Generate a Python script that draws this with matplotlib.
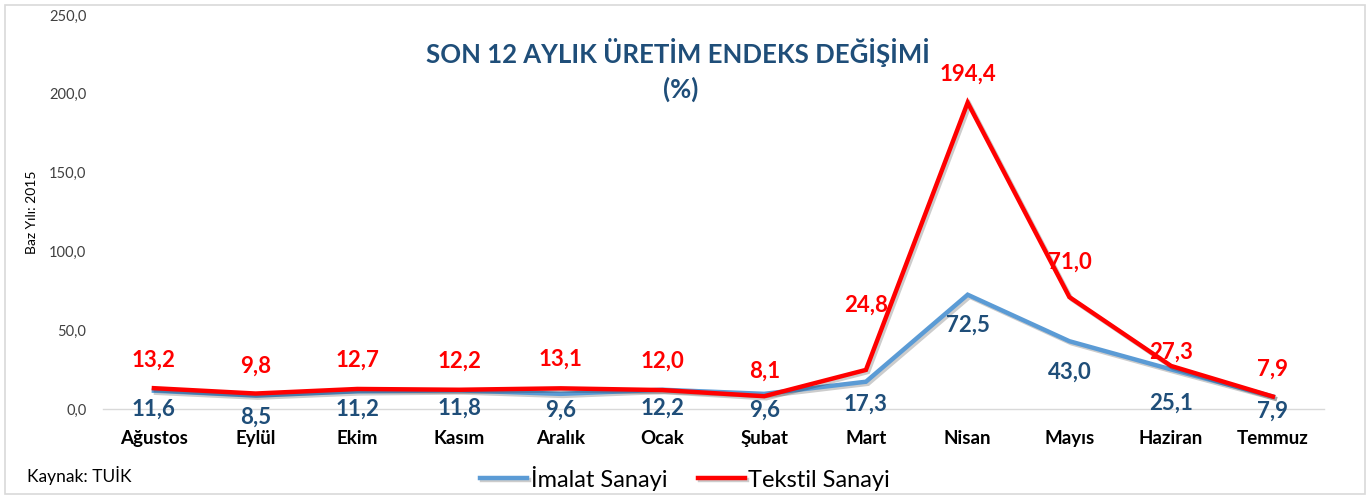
import matplotlib.pyplot as plt
import matplotlib.patheffects as pe
from matplotlib.patches import Rectangle

plt.rcParams['font.family'] = ['Lato', 'DejaVu Sans']

months = ["Ağustos", "Eylül", "Ekim", "Kasım", "Aralık", "Ocak",
          "Şubat", "Mart", "Nisan", "Mayıs", "Haziran", "Temmuz"]
imalat = [11.6, 8.5, 11.2, 11.8, 9.6, 12.2, 9.6, 17.3, 72.5, 43.0, 25.1, 7.9]
tekstil = [13.2, 9.8, 12.7, 12.2, 13.1, 12.0, 8.1, 24.8, 194.4, 71.0, 27.3, 7.9]

# label offsets in pixels (label centre relative to the point)
red_off = [28, 27, 29, 29, 29, 29, 25, 65, 28, 35, 14, 27]
blue_off = [19, 22, 18, 18, 16, 18, 16, 22, 30, 31, 34, 15]

blue = "#5B9BD5"
red = "#FF0000"
dark_blue = "#1F4E79"

def fmt(v):
    return f"{v:.1f}".replace(".", ",")

fig = plt.figure(figsize=(13.7, 4.99), dpi=100)
ax = fig.add_axes([0.0752, 0.1804, 0.891, 0.7896])

x = list(range(len(months)))
shadow = [pe.SimpleLineShadow(offset=(1.5, -1.5), alpha=0.2), pe.Normal()]
ax.plot(x, imalat, color=blue, lw=3.2, label="İmalat Sanayi",
        path_effects=shadow, solid_joinstyle='miter', zorder=3)
ax.plot(x, tekstil, color=red, lw=3.2, label="Tekstil Sanayi",
        path_effects=shadow, solid_joinstyle='miter', zorder=4)

for i in x:
    ax.annotate(fmt(tekstil[i]), (i, tekstil[i]), xytext=(0, red_off[i] * 0.72),
                textcoords='offset points', ha='center', va='center',
                color=red, fontsize=16, fontweight='bold', zorder=5)
    ax.annotate(fmt(imalat[i]), (i, imalat[i]), xytext=(0, -blue_off[i] * 0.72),
                textcoords='offset points', ha='center', va='center',
                color=dark_blue, fontsize=16, fontweight='bold', zorder=5)

ax.set_xlim(-0.5, len(months) - 0.5)
ax.set_ylim(0, 250)
ax.set_yticks(range(0, 251, 50))
ax.set_yticklabels([fmt(v) for v in range(0, 251, 50)], fontsize=10.5, color="#404040")
ax.set_xticks(x)
ax.set_xticklabels(months, fontsize=13.5, fontweight='bold', color="black")
ax.tick_params(axis='both', length=0)
ax.tick_params(axis='x', pad=15)
ax.tick_params(axis='y', pad=12)
for s in ['top', 'right', 'left']:
    ax.spines[s].set_visible(False)
ax.spines['bottom'].set_color("#D9D9D9")
ax.spines['bottom'].set_linewidth(1)
ax.spines['bottom'].set_zorder(1)

ax.set_ylabel("Baz Yılı: 2015", fontsize=10, color="black", labelpad=8)

fig.text(0.495, 0.895, "SON 12 AYLIK ÜRETİM ENDEKS DEĞİŞİMİ", ha='center', va='center',
         fontsize=18.5, fontweight='bold', color=dark_blue)
fig.text(0.497, 0.82, "(%)", ha='center', va='center',
         fontsize=18.5, fontweight='bold', color=dark_blue)

fig.text(0.02, 0.048, "Kaynak: TUİK", ha='left', va='center', fontsize=12.5, color="black")

fig.legend(loc='center', bbox_to_anchor=(0.5, 0.042), ncol=2, frameon=False,
           fontsize=17, handlelength=2.0, handletextpad=0.15, columnspacing=1.3)

fig.patches.append(Rectangle((0.004, 0.01), 0.992, 0.98, transform=fig.transFigure,
                             fill=False, edgecolor="#D9D9D9", lw=1.2))

fig.savefig("out.png", dpi=100)
